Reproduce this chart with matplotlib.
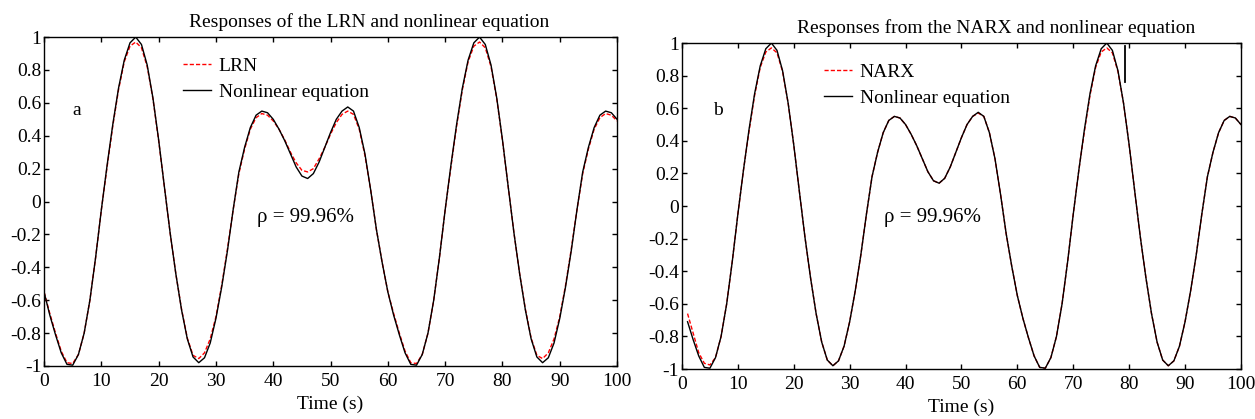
import numpy as np
import matplotlib
matplotlib.use("Agg")
import matplotlib.pyplot as plt
from matplotlib.ticker import FuncFormatter

# time axis (s), sampled every second
time_a = np.arange(0, 101)
time_b = np.arange(1, 101)

# nonlinear equation response
nonlinear_a = [
    -0.55, -0.69, -0.81, -0.92, -0.99, -0.995, -0.93, -0.80, -0.60, -0.34,
    -0.05, 0.22, 0.47, 0.69, 0.86, 0.965, 1.00, 0.955, 0.83, 0.63,
    0.375, 0.09, -0.19, -0.44, -0.66, -0.835, -0.945, -0.98, -0.95, -0.86,
    -0.71, -0.52, -0.30, -0.05, 0.18, 0.33, 0.45, 0.525, 0.55, 0.54,
    0.50, 0.44, 0.37, 0.29, 0.21, 0.155, 0.14, 0.17, 0.24, 0.33,
    0.42, 0.50, 0.55, 0.575, 0.55, 0.45, 0.29, 0.07, -0.17, -0.37,
    -0.55, -0.69, -0.81, -0.92, -0.99, -0.995, -0.93, -0.80, -0.60, -0.34,
    -0.05, 0.22, 0.47, 0.69, 0.86, 0.965, 1.00, 0.955, 0.83, 0.63,
    0.375, 0.09, -0.19, -0.44, -0.66, -0.835, -0.945, -0.98, -0.95, -0.86,
    -0.71, -0.52, -0.30, -0.05, 0.18, 0.33, 0.45, 0.525, 0.55, 0.54,
    0.50,
]

# LRN output, panel a
lrn = [
    -0.55, -0.68, -0.80, -0.91, -0.98, -0.985, -0.93, -0.80, -0.60, -0.34,
    -0.05, 0.21, 0.46, 0.68, 0.85, 0.945, 0.97, 0.935, 0.82, 0.625,
    0.37, 0.09, -0.19, -0.44, -0.655, -0.83, -0.935, -0.955, -0.92, -0.835,
    -0.70, -0.51, -0.29, -0.05, 0.17, 0.32, 0.44, 0.51, 0.535, 0.525,
    0.49, 0.44, 0.375, 0.30, 0.235, 0.19, 0.18, 0.20, 0.26, 0.33,
    0.41, 0.48, 0.53, 0.55, 0.53, 0.44, 0.28, 0.07, -0.17, -0.37,
    -0.55, -0.68, -0.80, -0.91, -0.98, -0.985, -0.93, -0.80, -0.60, -0.34,
    -0.05, 0.21, 0.46, 0.68, 0.85, 0.945, 0.97, 0.935, 0.82, 0.625,
    0.37, 0.09, -0.19, -0.44, -0.655, -0.83, -0.935, -0.955, -0.92, -0.835,
    -0.70, -0.51, -0.29, -0.05, 0.17, 0.32, 0.44, 0.51, 0.535, 0.525,
    0.49,
]

# nonlinear equation response, panel b (starts at t = 1)
nonlinear_b = [
    -0.71, -0.82, -0.92, -0.99, -0.995, -0.93, -0.80, -0.60, -0.34,
    -0.05, 0.22, 0.47, 0.69, 0.86, 0.965, 1.00, 0.955, 0.83, 0.63,
    0.375, 0.09, -0.19, -0.44, -0.66, -0.835, -0.945, -0.98, -0.95, -0.86,
    -0.71, -0.52, -0.30, -0.05, 0.18, 0.33, 0.45, 0.525, 0.55, 0.54,
    0.50, 0.44, 0.37, 0.29, 0.21, 0.155, 0.14, 0.17, 0.24, 0.33,
    0.42, 0.50, 0.55, 0.575, 0.55, 0.45, 0.29, 0.07, -0.17, -0.37,
    -0.55, -0.69, -0.81, -0.92, -0.99, -0.995, -0.93, -0.80, -0.60, -0.34,
    -0.05, 0.22, 0.47, 0.69, 0.86, 0.965, 1.00, 0.955, 0.83, 0.63,
    0.375, 0.09, -0.19, -0.44, -0.66, -0.835, -0.945, -0.98, -0.95, -0.86,
    -0.71, -0.52, -0.30, -0.05, 0.18, 0.33, 0.45, 0.525, 0.55, 0.54,
    0.50,
]

# NARX output, panel b
narx = [
    -0.66, -0.78, -0.90, -0.965, -0.975, -0.93, -0.80, -0.60, -0.34,
    -0.05, 0.22, 0.46, 0.68, 0.85, 0.945, 0.97, 0.94, 0.825, 0.63,
    0.375, 0.09, -0.19, -0.44, -0.66, -0.835, -0.945, -0.98, -0.95, -0.86,
    -0.71, -0.52, -0.30, -0.05, 0.18, 0.33, 0.45, 0.525, 0.55, 0.54,
    0.50, 0.44, 0.37, 0.29, 0.21, 0.155, 0.14, 0.17, 0.24, 0.33,
    0.42, 0.50, 0.55, 0.57, 0.55, 0.45, 0.29, 0.07, -0.17, -0.37,
    -0.55, -0.69, -0.81, -0.92, -0.99, -0.995, -0.93, -0.80, -0.60, -0.34,
    -0.05, 0.22, 0.46, 0.68, 0.85, 0.945, 0.97, 0.94, 0.825, 0.63,
    0.375, 0.09, -0.19, -0.44, -0.66, -0.835, -0.945, -0.98, -0.95, -0.86,
    -0.71, -0.52, -0.30, -0.05, 0.18, 0.33, 0.45, 0.525, 0.55, 0.54,
    0.50,
]

# stray vertical mark in panel b
stray_t = [79.3, 79.3]
stray_y = [0.98, 0.76]

x_ticks = np.arange(0, 101, 10)
y_ticks = np.round(np.arange(-1, 1.01, 0.2), 1)

plt.rcParams['font.family'] = ['Liberation Serif', 'DejaVu Serif']
plt.rcParams['axes.linewidth'] = 1.0

fig = plt.figure(figsize=(12.55, 4.19), dpi=100)
ax_a = fig.add_axes([0.0351, 0.1265, 0.4566, 0.785])
ax_b = fig.add_axes([0.5434, 0.1193, 0.4454, 0.778])


def fmt(v, pos):
    if abs(v) < 1e-9:
        return "0"
    s = "%g" % v
    return s


def style_axes(ax):
    ax.set_xlim(0, 100)
    ax.set_ylim(-1, 1)
    ax.set_xticks(x_ticks)
    ax.set_yticks(y_ticks)
    ax.yaxis.set_major_formatter(FuncFormatter(fmt))
    ax.tick_params(direction='in', top=True, right=True, length=3.5,
                   width=1.0, labelsize=14)
    ax.tick_params(axis='x', pad=5)
    ax.tick_params(axis='y', pad=2)
    ax.set_xlabel('Time (s)', fontsize=14, labelpad=4)


leg_kw = dict(loc='upper left', frameon=False, fontsize=14, handlelength=1.45,
              handletextpad=0.4, labelspacing=0.42, borderpad=0.2)

# panel a
ax_a.plot(time_a, lrn, color='red', lw=1.0, dashes=(3, 1.5), label='LRN')
ax_a.plot(time_a, nonlinear_a, color='black', lw=1.0, label='Nonlinear equation')
style_axes(ax_a)
ax_a.text(0.567, 1.018, 'Responses of the LRN and nonlinear equation',
          transform=ax_a.transAxes, ha='center', va='bottom', fontsize=14)
ax_a.legend(bbox_to_anchor=(0.218, 0.98), **leg_kw)
ax_a.text(0.057, 0.778, 'a', transform=ax_a.transAxes, ha='center',
          va='center', fontsize=14)
ax_a.text(0.457, 0.45, 'ρ = 99.96%', transform=ax_a.transAxes,
          ha='center', va='center', fontsize=15)

# panel b
ax_b.plot(time_b, narx, color='red', lw=1.0, dashes=(3, 1.5), label='NARX')
ax_b.plot(time_b, nonlinear_b, color='black', lw=1.0, label='Nonlinear equation')
ax_b.plot(stray_t, stray_y, color='black', lw=1.3)
style_axes(ax_b)
ax_b.text(0.562, 1.018, 'Responses from the NARX and nonlinear equation',
          transform=ax_b.transAxes, ha='center', va='bottom', fontsize=14)
ax_b.legend(bbox_to_anchor=(0.229, 0.98), **leg_kw)
ax_b.text(0.064, 0.794, 'b', transform=ax_b.transAxes, ha='center',
          va='center', fontsize=14)
ax_b.text(0.449, 0.466, 'ρ = 99.96%', transform=ax_b.transAxes,
          ha='center', va='center', fontsize=15)

fig.savefig('out.png', dpi=100)
